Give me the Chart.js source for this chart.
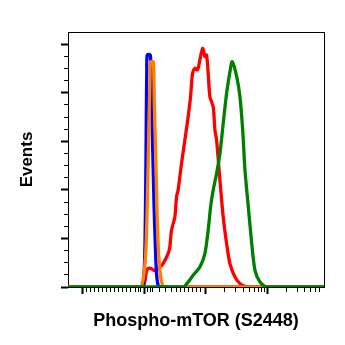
<!DOCTYPE html>
<html>
<head>
<meta charset="utf-8">
<script src="https://cdn.jsdelivr.net/npm/chart.js@4/dist/chart.umd.min.js"></script>
<style>
  html, body { margin: 0; padding: 0; background: #fff; }
  #wrap { width: 345px; height: 345px; }
</style>
</head>
<body>
<div id="wrap"><canvas id="c" width="345" height="345"></canvas></div>
<script>
// x values are in display units of the biexponential axis: 1 = -10^3, 2 = 0, 3 = 10^3, 4 = 10^4
const xMajorTicks = [1, 2, 3, 4];
const xMinorTicks = [1.07, 1.13, 1.20, 1.26, 1.33, 1.39, 1.46, 1.52, 1.59, 1.65, 1.72, 1.78,
  1.865, 1.905, 1.946, 2.06, 2.10, 2.14,
  2.254, 2.352, 2.444, 2.525, 2.595, 2.66, 2.724, 2.789, 2.854, 2.919,
  3.301, 3.477, 3.602, 3.699, 3.778, 3.845, 3.903, 3.954,
  4.301, 4.477, 4.602, 4.699, 4.778, 4.845];
const yMajorTicks = [0, 1, 2, 3, 4, 5];
const yMinorTicks = [0.25, 0.5, 0.75, 1.25, 1.5, 1.75, 2.25, 2.5, 2.75, 3.25, 3.5, 3.75, 4.25, 4.5, 4.75];

const blueX = [0.77, 1.947, 1.984, 2.003, 2.016, 2.028, 2.036, 2.044, 2.052, 2.100, 2.117, 2.130, 2.146, 2.162, 2.182, 2.201, 2.227, 2.254, 4.91];
const blueY = [0, 0, 0.035, 0.344, 0.963, 2.200, 3.437, 4.468, 4.777, 4.777, 4.262, 3.375, 2.509, 1.664, 0.860, 0.282, 0.035, 0, 0];

const orangeX = [0.77, 1.930, 1.963, 2.003, 2.036, 2.060, 2.081, 2.097, 2.105, 2.150, 2.165, 2.182, 2.198, 2.214, 2.233, 2.259, 2.295, 2.335, 4.91];
const orangeY = [0, 0, 0.035, 0.303, 0.963, 2.200, 3.437, 4.365, 4.633, 4.633, 3.849, 3.025, 2.200, 1.375, 0.757, 0.303, 0.056, 0, 0];

const redX = [0.77, 1.958, 2.003, 2.036, 2.060, 2.120, 2.157, 2.201, 2.254, 2.308, 2.389, 2.417, 2.444, 2.498, 2.525, 2.551, 2.606, 2.660, 2.713, 2.752, 2.784, 2.822, 2.854, 2.875, 2.903, 2.947, 2.984, 3.011, 3.037, 3.065, 3.118, 3.146, 3.173, 3.227, 3.280, 3.335, 3.389, 3.470, 3.551, 3.632, 3.713, 4.91];
const redY = [0, 0, 0.056, 0.303, 0.379, 0.379, 0.344, 0.344, 0.406, 0.482, 0.689, 0.825, 1.169, 1.443, 1.856, 1.994, 2.544, 3.025, 3.505, 3.918, 4.400, 4.503, 4.468, 4.503, 4.674, 4.915, 4.742, 4.777, 4.400, 3.918, 3.711, 3.231, 3.025, 2.200, 1.443, 0.895, 0.482, 0.206, 0.070, 0.014, 0, 0];

const greenX = [0.77, 2.632, 2.713, 2.794, 2.903, 2.984, 3.037, 3.076, 3.118, 3.173, 3.227, 3.280, 3.335, 3.389, 3.426, 3.498, 3.551, 3.595, 3.632, 3.686, 3.741, 3.794, 3.875, 3.984, 4.91];
const greenY = [0, 0, 0.103, 0.241, 0.412, 0.689, 1.169, 1.649, 1.994, 2.338, 2.750, 3.369, 3.988, 4.433, 4.639, 4.330, 3.918, 3.231, 2.406, 1.649, 0.895, 0.344, 0.103, 0, 0];

const xTitle = 'Phospho-mTOR (S2448)';
const yTitle = 'Events';

function pts(xs, ys) { return xs.map((x, i) => ({ x: x, y: ys[i] })); }
function tickList(major, minor) {
  const all = major.map(v => ({ value: v, major: true })).concat(minor.map(v => ({ value: v, major: false })));
  all.sort((a, b) => a.value - b.value);
  return all;
}
const isMajor = c => !!(c.tick && c.tick.major);
const FONT = "'Liberation Sans', Arial, sans-serif";

new Chart(document.getElementById('c'), {
  type: 'line',
  data: {
    datasets: [
      { data: pts(greenX, greenY), borderColor: '#008000', order: 0 },
      { data: pts(orangeX, orangeY), borderColor: '#ff8000', order: 1 },
      { data: pts(blueX, blueY), borderColor: '#0000ff', order: 2 },
      { data: pts(redX, redY), borderColor: '#ff0000', order: 3 }
    ]
  },
  options: {
    responsive: false,
    animation: false,
    devicePixelRatio: 1,
    layout: { padding: { top: 32, right: 21, left: 0, bottom: 0 } },
    elements: {
      line: { borderWidth: 3.3, tension: 0.25, fill: false },
      point: { radius: 0 }
    },
    plugins: { legend: { display: false }, tooltip: { enabled: false } },
    scales: {
      x: {
        type: 'linear', position: 'bottom', min: 0.77, max: 4.91,
        afterBuildTicks: s => { s.ticks = tickList(xMajorTicks, xMinorTicks); },
        afterFit: s => { s.height = 58; },
        ticks: { display: false, autoSkip: false },
        grid: {
          drawOnChartArea: false, drawTicks: true, tickLength: 7,
          tickColor: '#000',
          tickWidth: c => isMajor(c) ? 2 : 1,
          tickBorderDash: c => isMajor(c) ? [] : [4, 60]
        },
        border: { display: true, color: '#000', width: 1 },
        title: { display: true, text: xTitle, color: '#000',
          font: { family: FONT, size: 18, weight: 'bold', lineHeight: 1.2 },
          padding: { top: 0, bottom: 13 } }
      },
      y: {
        type: 'linear', position: 'left', min: 0, max: 5.25,
        afterBuildTicks: s => { s.ticks = tickList(yMajorTicks, yMinorTicks); },
        afterFit: s => { s.width = 68; },
        ticks: { display: false, autoSkip: false },
        grid: {
          drawOnChartArea: false, drawTicks: true, tickLength: 7,
          tickColor: '#000',
          tickWidth: c => isMajor(c) ? 2 : 1,
          tickBorderDash: c => isMajor(c) ? [] : [0, 3, 4, 60]
        },
        border: { display: true, color: '#000', width: 1 },
        title: { display: true, text: yTitle, color: '#000',
          font: { family: FONT, size: 17, weight: 'bold', lineHeight: 1.2 },
          padding: { top: 17, bottom: 0 } }
      },
      x2: {
        type: 'linear', position: 'top', min: 0, max: 1,
        afterFit: s => { s.height = 0; },
        ticks: { display: false },
        grid: { drawOnChartArea: false, drawTicks: false },
        border: { display: true, color: '#000', width: 1 }
      },
      y2: {
        type: 'linear', position: 'right', min: 0, max: 1,
        afterFit: s => { s.width = 0; },
        ticks: { display: false },
        grid: { drawOnChartArea: false, drawTicks: false },
        border: { display: true, color: '#000', width: 1 }
      }
    }
  }
});
</script>
</body>
</html>
